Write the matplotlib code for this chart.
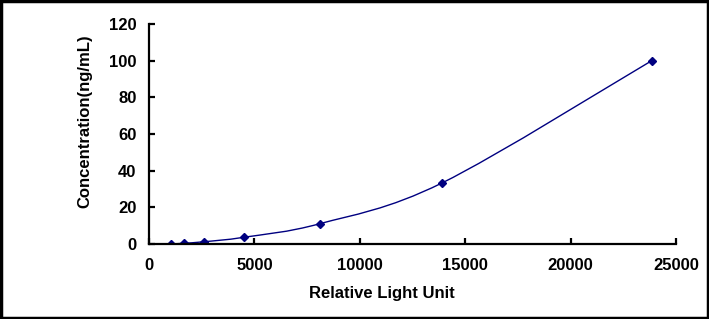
import matplotlib.pyplot as plt
from matplotlib.path import Path
from matplotlib.patches import PathPatch, Rectangle

plt.rcParams['font.family'] = ['Liberation Sans', 'DejaVu Sans']

# standard curve readings
rlu = [1050, 1660, 2610, 4520, 8110, 13900, 23850]
conc = [0, 0.41, 1.23, 3.7, 11.1, 33.3, 100]

x_ticks = [0, 5000, 10000, 15000, 20000, 25000]
y_ticks = [0, 20, 40, 60, 80, 100, 120]

navy = '#000080'

fig = plt.figure(figsize=(7.09, 3.19), dpi=100)
ax = fig.add_axes([0.2102, 0.2351, 0.7433, 0.6897])

# smoothed line like the spreadsheet one: cubic bezier, catmull-rom handles
pts = list(zip(rlu, conc))
verts = [pts[0]]
codes = [Path.MOVETO]
for i in range(len(pts) - 1):
    p0 = pts[max(i - 1, 0)]
    p1 = pts[i]
    p2 = pts[i + 1]
    p3 = pts[min(i + 2, len(pts) - 1)]
    c1 = (p1[0] + (p2[0] - p0[0]) / 6, p1[1] + (p2[1] - p0[1]) / 6)
    c2 = (p2[0] - (p3[0] - p1[0]) / 6, p2[1] - (p3[1] - p1[1]) / 6)
    verts += [c1, c2, p2]
    codes += [Path.CURVE4] * 3
ax.add_patch(PathPatch(Path(verts, codes), facecolor='none', edgecolor=navy, lw=1.0))

ax.plot(rlu, conc, linestyle='none', marker='D', markersize=4.5, color=navy)

ax.set_xlim(0, 25000)
ax.set_ylim(0, 120)
ax.set_xticks(x_ticks)
ax.set_yticks(y_ticks)
for s in ['top', 'right']:
    ax.spines[s].set_visible(False)
for s in ['left', 'bottom']:
    ax.spines[s].set_linewidth(1.6)
ax.tick_params(direction='in', length=4, width=1.6, labelsize=12)
ax.tick_params(axis='x', pad=10)
ax.tick_params(axis='y', pad=9)
for lab in ax.get_xticklabels() + ax.get_yticklabels():
    lab.set_fontweight('bold')

ax.set_xlabel('Relative Light Unit', fontsize=12, fontweight='bold')
ax.set_ylabel('Concentration(ng/mL)', fontsize=12, fontweight='bold')
ax.xaxis.set_label_coords(0.442, -0.19)
ax.yaxis.set_label_coords(-0.108, 0.559)

fig.patches.append(Rectangle((0.002, 0.003), 0.996, 0.994, transform=fig.transFigure,
                             fill=False, edgecolor='black', lw=2.5))

fig.savefig('out.png', dpi=100)
